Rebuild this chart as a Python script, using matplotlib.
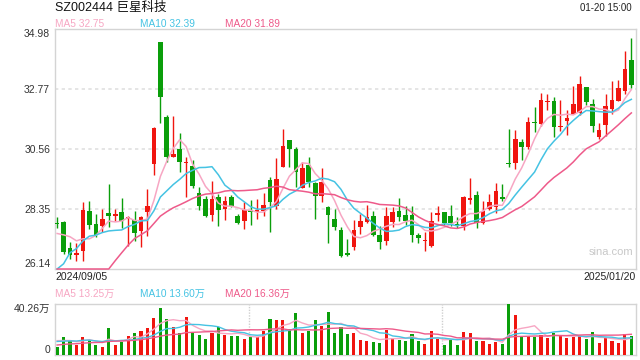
import numpy as np
import pandas as pd
import matplotlib
matplotlib.use("Agg")
import matplotlib.pyplot as plt

plt.rcParams['font.family'] = ['Liberation Sans', 'Noto Sans CJK SC', 'DejaVu Sans']

# daily OHLC, 2024/09/05 .. 2025/01/20 (90 sessions)
opens = [27.80, 27.87, 26.91, 26.67, 26.81, 28.26, 27.80, 27.74, 28.20, 28.09,
         28.24, 27.99, 27.94, 27.55, 28.25, 30.01, 34.49, 31.73, 30.28, 30.56,
         30.03, 29.93, 28.93, 28.72, 28.14, 28.78, 28.34, 28.80, 28.09, 27.92,
         28.33, 28.25, 28.29, 29.43, 28.47, 29.91, 30.89, 30.56, 29.12, 29.97,
         29.31, 28.84, 28.41, 27.98, 27.58, 26.72, 26.96, 27.70, 27.86, 28.08,
         27.39, 27.18, 27.86, 28.26, 28.13, 28.13, 27.39, 27.17, 27.00, 28.14,
         28.23, 28.09, 27.80, 27.74, 28.69, 28.87, 27.82, 28.35, 28.41, 28.79,
         30.06, 30.03, 30.80, 30.62, 31.57, 31.48, 32.30, 32.32, 31.38, 31.60,
         31.85, 31.87, 32.86, 32.22, 31.01, 31.46, 32.03, 32.34, 32.71, 33.84]
highs = [28.07, 27.91, 27.12, 27.09, 28.59, 28.64, 28.17, 28.35, 29.26, 28.35,
         28.76, 28.10, 28.29, 28.10, 29.09, 31.38, 34.51, 31.82, 31.79, 31.14,
         30.25, 30.15, 29.15, 28.84, 29.39, 28.90, 28.84, 28.86, 28.16, 28.59,
         28.68, 28.72, 28.94, 29.52, 30.22, 31.30, 30.89, 30.62, 30.07, 30.25,
         29.33, 29.85, 28.47, 28.35, 27.67, 27.24, 27.94, 28.17, 28.50, 28.29,
         27.74, 28.41, 28.41, 28.74, 28.47, 28.47, 27.47, 27.49, 28.23, 28.47,
         28.25, 28.50, 28.04, 28.84, 29.49, 29.00, 28.63, 28.90, 29.30, 29.27,
         31.30, 31.26, 30.93, 31.73, 32.12, 32.61, 32.59, 32.46, 32.36, 32.00,
         32.89, 33.26, 32.86, 32.40, 31.51, 32.59, 33.08, 33.11, 34.18, 34.65]
lows = [27.65, 26.69, 26.51, 26.45, 26.42, 27.61, 27.31, 27.49, 27.67, 27.92,
        27.65, 27.00, 27.16, 26.96, 27.37, 29.61, 31.50, 30.07, 30.25, 29.70,
        28.80, 29.12, 28.31, 28.07, 27.92, 27.74, 27.94, 28.44, 27.80, 27.61,
        27.76, 27.98, 28.08, 27.49, 28.35, 29.91, 29.91, 29.15, 29.12, 29.15,
        27.98, 28.62, 27.10, 27.59, 26.57, 26.61, 26.84, 27.43, 27.83, 27.37,
        26.88, 27.02, 27.67, 27.92, 27.76, 27.12, 27.09, 26.82, 26.94, 27.92,
        27.76, 27.74, 27.64, 27.59, 28.53, 27.65, 27.80, 28.31, 28.19, 28.66,
        29.91, 29.82, 30.15, 30.56, 31.17, 31.42, 32.00, 31.01, 31.24, 31.08,
        31.85, 31.82, 32.19, 31.20, 30.93, 31.05, 31.85, 32.32, 32.59, 32.81]
closes = [27.78, 26.78, 26.67, 26.73, 28.31, 27.77, 27.39, 27.98, 28.08, 28.15,
          27.92, 28.04, 27.45, 28.04, 28.46, 31.33, 32.46, 30.28, 30.38, 30.07,
          30.07, 29.20, 28.47, 28.10, 28.72, 28.33, 28.66, 28.47, 27.82, 28.31,
          28.25, 28.31, 28.50, 28.62, 29.45, 30.67, 30.56, 29.70, 29.86, 29.33,
          28.84, 29.33, 28.13, 27.67, 26.63, 26.67, 27.58, 27.90, 28.07, 27.40,
          27.12, 28.08, 28.25, 28.04, 27.92, 27.40, 27.27, 27.18, 27.92, 28.19,
          27.82, 27.82, 27.75, 28.78, 28.74, 27.82, 28.29, 28.60, 29.00, 28.72,
          30.01, 30.93, 30.65, 31.57, 31.52, 32.36, 32.34, 31.38, 31.42, 31.72,
          32.22, 32.97, 32.28, 31.42, 31.26, 32.16, 32.36, 32.79, 33.51, 32.92]
# volume, unit 万
volumes = [6.7, 14.5, 12.0, 8.0, 14.5, 11.7, 8.0, 6.7, 21.5, 8.0,
           10.6, 15.2, 17.5, 18.6, 21.6, 29.4, 37.4, 28.7, 22.3, 17.6,
           30.3, 18.0, 16.1, 12.8, 17.7, 22.0, 16.1, 14.8, 15.3, 12.9,
           14.0, 14.0, 19.3, 28.2, 27.4, 27.4, 20.9, 33.0, 17.7, 19.3,
           27.4, 23.2, 34.3, 17.6, 22.3, 16.6, 17.6, 12.0, 11.2, 10.4,
           9.6, 19.9, 13.3, 12.0, 11.2, 16.6, 11.2, 8.8, 19.1, 12.9,
           8.0, 13.0, 8.0, 18.4, 17.6, 11.2, 11.2, 8.8, 10.4, 8.8,
           40.26, 31.2, 14.7, 14.7, 14.6, 16.1, 13.6, 17.6, 15.2, 13.24,
           14.5, 14.8, 12.3, 18.4, 9.75, 13.3, 11.3, 9.6, 16.7, 15.35]

# sessions before the window (only feed the moving averages)
prior_closes = [21.3, 21.1, 21.4, 21.6, 21.2, 21.0, 21.5, 21.8, 22.0, 22.1,
                22.4, 22.6, 25.2, 25.5, 26.0, 27.03, 27.02, 27.48, 27.93]
prior_volumes = [5, 4, 5, 6, 5, 4, 5, 6, 5, 6, 12, 10, 9, 8, 11, 14, 12, 13, 11]

price_ticks = [26.14, 28.35, 30.56, 32.77, 34.98]
vol_max = 40.26
start_label = "2024/09/05"
end_label = "2025/01/20"

RED = '#f0150f'
GREEN = '#0a9e0a'
C_MA5 = '#f7a6c3'
C_MA10 = '#45c3e3'
C_MA20 = '#ee5a8a'
GRID = '#e0e0e0'
SPINE = '#d4d4d4'

n = len(closes)
x = np.arange(n)
o = np.array(opens); h = np.array(highs); l = np.array(lows); c = np.array(closes)
v = np.array(volumes)
up = c >= o
colors = np.where(up, RED, GREEN)

all_c = pd.Series(prior_closes + closes)
all_v = pd.Series(prior_volumes + volumes)
k = len(prior_closes)
ma = {w: all_c.rolling(w).mean().values[k:] for w in (5, 10, 20)}
vma = {w: all_v.rolling(w).mean().values[k:] for w in (5, 10, 20)}

fig = plt.figure(figsize=(6.4, 3.6), dpi=100)
ax = fig.add_axes([55 / 640, 1 - 269 / 360, 581 / 640, 240 / 360])
axv = fig.add_axes([55 / 640, 1 - 355 / 360, 581 / 640, 51 / 360])

ylo, yhi = price_ticks[0], price_ticks[-1]
xl = (-0.33, n - 1 + 0.72)

# candles
ax.vlines(x, l, h, colors=colors, lw=1.0, zorder=3)
body_lo = np.minimum(o, c)
body_h = np.maximum(np.abs(c - o), 0.04)
ax.bar(x, body_h, bottom=body_lo, width=0.72, color=colors, lw=0, zorder=3)

for w, col in ((5, C_MA5), (10, C_MA10), (20, C_MA20)):
    ax.plot(x, np.clip(ma[w], ylo, yhi), color=col, lw=1.1, zorder=4, clip_on=False)

ax.set_xlim(*xl)
ax.set_ylim(ylo, yhi)
ax.set_xticks([])
ax.set_yticks(price_ticks)
ax.set_yticklabels([f"{t:.2f}" for t in price_ticks], fontsize=7.5, color='#333333')
tl = ax.get_yticklabels()
tl[0].set_va('bottom')
tl[-1].set_va('top')
ax.tick_params(axis='y', length=0, pad=3.5)
for t in price_ticks[1:-1]:
    ax.axhline(t, color=GRID, lw=1.2, ls=(0, (2, 2)), zorder=1)
for s in ax.spines.values():
    s.set_color(SPINE)
    s.set_linewidth(1)
ax.text(0.995, 0.07, 'sina.com', transform=ax.transAxes, ha='right', va='center',
        fontsize=8, color='#c8c8c8')

# volume
axv.bar(x, v, width=0.48, color=colors, lw=0, zorder=3)
for w, col in ((5, C_MA5), (10, C_MA10), (20, C_MA20)):
    axv.plot(x, vma[w], color=col, lw=1.0, zorder=4)
axv.set_xlim(*xl)
axv.set_ylim(0, vol_max)
axv.set_xticks([])
axv.set_yticks([0, vol_max])
axv.set_yticklabels(['0', f"{vol_max:.2f}万"], fontsize=7.5, color='#333333')
vl = axv.get_yticklabels()
vl[0].set_va('bottom')
vl[1].set_va('top')
axv.tick_params(axis='y', length=0, pad=3.5)
for s in axv.spines.values():
    s.set_color(SPINE)
    s.set_linewidth(1)
    s.set_linestyle((0, (1, 1)))
axv.spines['bottom'].set_linestyle('-')
for frac in (1 / 3, 2 / 3):
    axv.axvline(xl[0] + frac * (xl[1] - xl[0]), color='#cfcfcf', lw=1, ls=(0, (1, 1)), zorder=1)

# header texts
fig.text(55 / 640, 1 - 8 / 360, "SZ002444 巨星科技", fontsize=9, color='#111111', va='center', ha='left')
fig.text(632 / 640, 1 - 8 / 360, "01-20 15:00", fontsize=7, color='#222222', va='center', ha='right')
legend_x = [55, 140, 225]
for lx, w, col in zip(legend_x, (5, 10, 20), (C_MA5, C_MA10, C_MA20)):
    fig.text(lx / 640, 1 - 24 / 360, f"MA{w} {ma[w][-1]:.2f}", fontsize=7.3, color=col, va='center', ha='left')
    fig.text(lx / 640, 1 - 294 / 360, f"MA{w} {vma[w][-1]:.2f}万", fontsize=7.3, color=col, va='center', ha='left')
fig.text(55 / 640, 1 - 277 / 360, start_label, fontsize=7.5, color='#222222', va='center', ha='left')
fig.text(636 / 640, 1 - 277 / 360, end_label, fontsize=7.5, color='#222222', va='center', ha='right')

fig.savefig('out.png', dpi=100)
